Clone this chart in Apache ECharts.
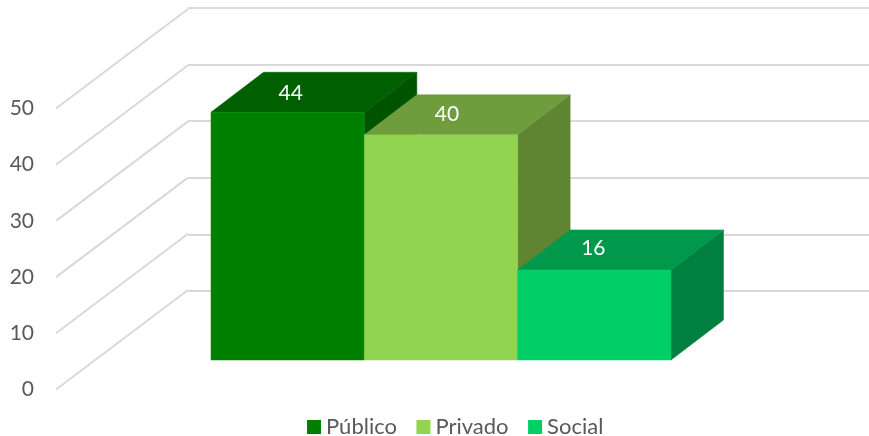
<!DOCTYPE html>
<html><head><meta charset="utf-8">
<style>html,body{margin:0;padding:0;background:#fff}#c{width:869px;height:436px}</style>
<script src="https://cdn.jsdelivr.net/npm/echarts@6/dist/echarts.min.js"></script>
</head><body><div id="c"></div>
<script>
const categories = ['Público', 'Privado', 'Social'];
const values = [44, 40, 16];
const ticks = [0, 10, 20, 30, 40, 50];
const frontColors = ['#008000', '#92D350', '#00CF65'];
const topColors = ['#006000', '#6F9D3D', '#00994B'];
const sideColors = ['#005400', '#5F8432', '#008040'];
const labelNudgeX = [3, 6, -1];
const labelNudgeY = [-19, -21, -22];
const FONT = 'Lato';
const depthX = 52.5, depthY = 40;

const chart = echarts.init(document.getElementById('c'));

function poly(points, fill) {
  return { type: 'polygon', shape: { points }, style: { fill, stroke: fill, lineWidth: 0.5 } };
}
function barRenderer(i) {
  return function (params, api) {
    const w = api.size([1, 0])[0];
    const top = api.coord([api.value(0), api.value(1)]);
    const bot = api.coord([api.value(0), 0]);
    const l = top[0] - w / 2, r = top[0] + w / 2, t = top[1], b = bot[1];
    return {
      type: 'group',
      children: [
        poly([[r, t], [r + depthX, t - depthY], [r + depthX, b - depthY], [r, b]], sideColors[i]),
        poly([[l, t], [l + depthX, t - depthY], [r + depthX, t - depthY], [r, t]], topColors[i]),
        poly([[l, t], [r, t], [r, b], [l, b]], frontColors[i]),
        { type: 'text', z2: 10, style: {
            text: String(api.value(1)), x: top[0] + labelNudgeX[i], y: t + labelNudgeY[i],
            fill: '#fff', font: '21px ' + FONT, align: 'center', verticalAlign: 'middle' } }
      ]
    };
  };
}

chart.setOption({
  animation: false,
  backgroundColor: '#fff',
  textStyle: { fontFamily: FONT },
  legend: {
    data: categories, left: 302, top: 411, itemWidth: 14, itemHeight: 14, itemGap: 19.5,
    icon: 'rect', selectedMode: false,
    textStyle: { color: '#595959', fontSize: 22, fontFamily: FONT, padding: [0, 0, 0, 0] }
  },
  grid: [
    { left: 56, width: 132, top: 108.5, height: 281 },
    { left: 188, right: 0, top: 8, bottom: 145 },
    { left: 211, width: 460, top: 78.5, height: 281.5 }
  ],
  xAxis: [
    { gridIndex: 0, type: 'value', min: 0, max: 1, show: false },
    { gridIndex: 1, type: 'value', min: 0, max: 1, show: false },
    { gridIndex: 2, type: 'category', data: categories, show: false }
  ],
  yAxis: [
    { gridIndex: 0, type: 'value', min: 0, max: 50, interval: 10,
      axisLine: { show: false }, axisTick: { show: false }, splitLine: { show: false },
      axisLabel: { margin: 22, color: '#595959', fontSize: 21, fontFamily: FONT } },
    { gridIndex: 1, type: 'value', min: 0, max: 50, interval: 10,
      axisLine: { show: false }, axisTick: { show: false },
      axisLabel: { show: false },
      splitLine: { show: true, lineStyle: { color: '#D9D9D9', width: 2 } } },
    { gridIndex: 2, type: 'value', min: 0, max: 50, show: false }
  ],
  series: [
    {
      type: 'custom', name: 'wall', xAxisIndex: 0, yAxisIndex: 0, silent: true, clip: false,
      data: ticks.map(v => [0, v]),
      renderItem(params, api) {
        const p = api.coord([0, api.value(1)]);
        const size = api.size([1, 0])[0];
        return { type: 'line', shape: { x1: p[0], y1: p[1], x2: p[0] + size, y2: p[1] - 99.5 },
                 style: { stroke: '#D9D9D9', lineWidth: 2 } };
      }
    }
  ].concat(categories.map((name, i) => ({
    type: 'custom', name, xAxisIndex: 2, yAxisIndex: 2, clip: false,
    itemStyle: { color: frontColors[i] },
    data: [[i, values[i]]],
    encode: { x: 0, y: 1 },
    renderItem: barRenderer(i)
  })))
});
</script></body></html>
